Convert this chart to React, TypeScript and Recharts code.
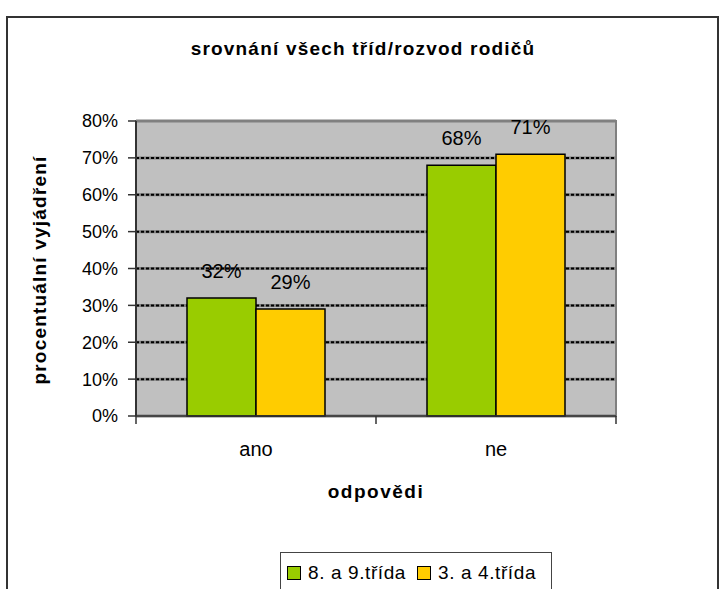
import React from 'react';
import {
  BarChart,
  Bar,
  XAxis,
  YAxis,
  CartesianGrid,
  Legend,
  LabelList,
  ReferenceArea,
} from 'recharts';

const categories = ['ano', 'ne'];
const grade89 = [32, 68];
const grade34 = [29, 71];
const seriesNames = ['8. a 9.třída', '3. a 4.třída'];
const seriesColors = ['#99CC00', '#FFCC00'];
const yTicks = [0, 10, 20, 30, 40, 50, 60, 70, 80];

const data = categories.map((name, i) => ({
  name,
  g89: grade89[i],
  g34: grade34[i],
}));

const FONT = '"Liberation Sans", Arial, sans-serif';

function CategoryTick(props: any) {
  const { x, y, payload, index, visibleTicksCount } = props;
  const half = payload?.offset ?? 0;
  const last = index === visibleTicksCount - 1;
  return (
    <g>
      <line x1={x - half} x2={x - half} y1={y} y2={y + 8} stroke="#333" strokeWidth={1.5} />
      {last && (
        <line x1={x + half} x2={x + half} y1={y} y2={y + 8} stroke="#333" strokeWidth={1.5} />
      )}
      <text x={x} y={y + 40} textAnchor="middle" fontSize={20} fontFamily={FONT} fill="#000">
        {payload.value}
      </text>
    </g>
  );
}

function LegendBox() {
  return (
    <div
      style={{
        border: '1.5px solid #444',
        borderBottom: 'none',
        height: 40,
        boxSizing: 'border-box',
        display: 'flex',
        alignItems: 'center',
        paddingLeft: 6,
        fontFamily: FONT,
        fontSize: 19,
        letterSpacing: 0.6,
        color: '#000',
      }}
    >
      {seriesNames.map((n, i) => (
        <span key={n} style={{ display: 'flex', alignItems: 'center', marginRight: 11 }}>
          <span
            style={{
              width: 12,
              height: 12,
              background: seriesColors[i],
              border: '1.5px solid #000',
              marginRight: 7,
              display: 'inline-block',
            }}
          />
          {n}
        </span>
      ))}
    </div>
  );
}

export default function App() {
  return (
    <div style={{ position: 'absolute', left: 0, top: 0, width: 722, height: 589, background: '#fff', overflow: 'hidden' }}>
      <div
        style={{
          position: 'absolute',
          left: 6,
          top: 16,
          width: 713,
          height: 600,
          border: '2px solid #333',
          boxSizing: 'border-box',
        }}
      />
      <BarChart
        width={722}
        height={589}
        data={data}
        margin={{ top: 121, right: 106, left: 36, bottom: 133 }}
        barCategoryGap={51}
        barGap={0}
        style={{ position: 'absolute', left: 0, top: 0 }}
      >
        <CartesianGrid vertical={false} fill="#C0C0C0" stroke="#808080" strokeWidth={3} />
        <CartesianGrid vertical={false} stroke="#000" strokeWidth={2} strokeDasharray="3 2" />
        <ReferenceArea y1={0} y2={80} fill="none" stroke="#808080" strokeWidth={2} />
        <XAxis
          dataKey="name"
          height={40}
          axisLine={{ stroke: '#333', strokeWidth: 1.5 }}
          tickLine={false}
          tickSize={0}
          tickMargin={0}
          tick={<CategoryTick />}
          interval={0}
        />
        <YAxis
          width={100}
          domain={[0, 80]}
          ticks={yTicks}
          interval={0}
          tickFormatter={(v) => `${v}%`}
          axisLine={{ stroke: '#333', strokeWidth: 2 }}
          tickLine={{ stroke: '#333', strokeWidth: 1.5 }}
          tickSize={8}
          tickMargin={10}
          tick={{ fontSize: 18, fontFamily: FONT, fill: '#000' }}
        />
        <Bar dataKey="g89" name={seriesNames[0]} fill={seriesColors[0]} stroke="#000" strokeWidth={1.5} isAnimationActive={false}>
          <LabelList dataKey="g89" position="top" offset={20} formatter={(v: any) => `${v}%`} style={{ fontSize: 20, fontFamily: FONT, fill: '#000' }} />
        </Bar>
        <Bar dataKey="g34" name={seriesNames[1]} fill={seriesColors[1]} stroke="#000" strokeWidth={1.5} isAnimationActive={false}>
          <LabelList dataKey="g34" position="top" offset={20} formatter={(v: any) => `${v}%`} style={{ fontSize: 20, fontFamily: FONT, fill: '#000' }} />
        </Bar>
        <Legend
          layout="horizontal"
          verticalAlign="middle"
          align="center"
          content={<LegendBox />}
          wrapperStyle={{ left: 280, top: 552, width: 272, height: 40 }}
        />
        <text x={363} y={55} textAnchor="middle" fontSize={19} fontWeight="bold" letterSpacing={1.2} fontFamily={FONT} fill="#000">
          srovnání všech tříd/rozvod rodičů
        </text>
        <text
          x={46}
          y={270}
          transform="rotate(-90 46 270)"
          textAnchor="middle"
          fontSize={19}
          fontWeight="bold"
          letterSpacing={1.2}
          fontFamily={FONT}
          fill="#000"
        >
          procentuální vyjádření
        </text>
        <text x={376} y={498} textAnchor="middle" fontSize={19} fontWeight="bold" letterSpacing={1.5} fontFamily={FONT} fill="#000">
          odpovědi
        </text>
      </BarChart>
    </div>
  );
}
